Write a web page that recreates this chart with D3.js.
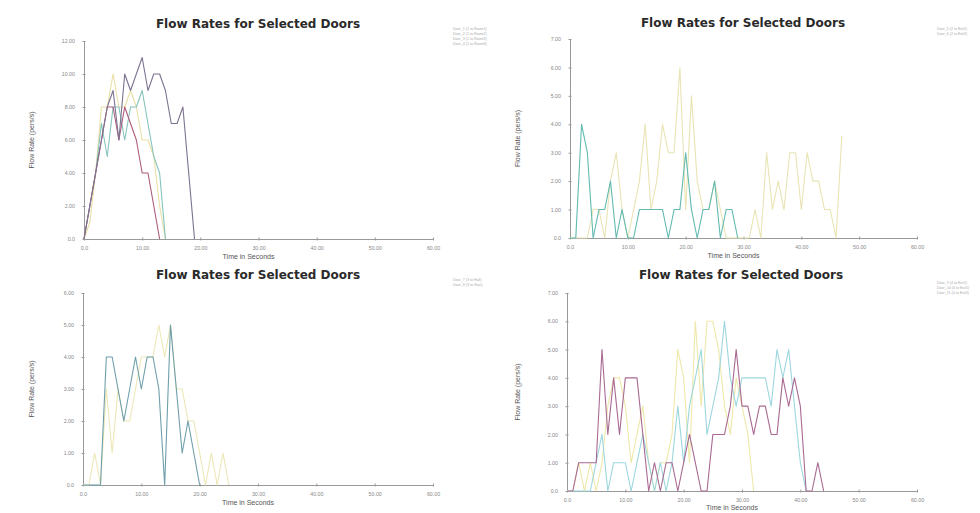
<!DOCTYPE html>
<html>
<head>
<meta charset="utf-8">
<script src="https://cdn.jsdelivr.net/npm/d3@7"></script>
<style>
  body { margin: 0; background: #fff; }
  svg { display: block; font-family: "Liberation Sans", Arial, sans-serif; }
</style>
</head>
<body>
<div id="chart"></div>
<script>
// flow values (pers/s), one per second starting at t = 0
const p1Purple = [0, 2, 4, 6, 8, 9, 6, 10, 9, 10, 11, 9, 10, 10, 9, 7, 7, 8, 4, 0];
const p1Red    = [0, 2, 4, 6, 8, 8, 6, 8, 7, 6, 4, 4, 2, 0];
const p1Yellow = [0, 1, 4, 8, 8, 10, 8, 8, 9, 8, 6, 6, 5, 2, 0];
const p1Teal   = [0, 2, 4, 7, 5, 8, 8, 6, 8, 8, 9, 7, 5, 4, 0];

const p2Yellow = [0, 0, 0, 0, 1, 1, 0, 2, 3, 1, 0, 1, 2, 4, 1, 2, 4, 3, 3, 6, 1, 5, 2, 1,
                  1, 2, 1, 0, 0, 0, 0, 0, 1, 0, 3, 1, 2, 1, 3, 3, 1, 3, 2, 2, 1, 1, 0, 3.6];
const p2Teal   = [0, 0, 4, 3, 0, 1, 1, 2, 0, 1, 0, 0, 1, 1, 1, 1, 1, 0, 1, 1, 3, 1, 0, 1,
                  1, 2, 0, 1, 1, 0];

const p3Teal   = [0, 0, 0, 0, 4, 4, 3, 2, 3, 4, 3, 4, 4, 3, 0, 5, 3, 1, 2, 1, 0];
const p3Yellow = [0, 0, 1, 0, 3, 1, 3, 2, 2, 3, 4, 4, 4, 5, 4, 5, 3, 3, 2, 2, 1, 0, 1, 0, 1, 0];

const p4Purple = [0, 0, 1, 1, 1, 1, 5, 2, 4, 2, 4, 4, 4, 2, 0, 1, 0, 1, 1, 0, 1, 2, 1, 0,
                  0, 2, 2, 2, 3, 5, 3, 3, 2, 3, 3, 2, 2, 4, 3, 4, 3, 0, 0, 1, 0];
const p4Cyan   = [0, 0, 0, 0, 0, 1, 2, 0, 1, 1, 1, 0, 1, 2, 1, 0, 1, 0, 1, 3, 1, 3, 4, 5,
                  2, 3, 4, 6, 4, 3, 4, 4, 4, 4, 4, 3, 5, 4, 5, 3, 1, 0];
const p4Yellow = [0, 0, 1, 0, 1, 0, 1, 3, 4, 4, 3, 1, 2, 3, 1, 0, 1, 1, 2, 5, 4, 1, 6, 3,
                  6, 6, 5, 3, 2, 4, 3, 2, 0];

const xTicks = [0, 10, 20, 30, 40, 50, 60];
const titleText = 'Flow Rates for Selected Doors';

const p1Legend = ['Door_1 (1 to Room1)', 'Door_2 (1 to Room2)', 'Door_3 (1 to Room3)', 'Door_4 (1 to Room4)'];
const p2Legend = ['Door_5 (2 to Exit1)', 'Door_6 (2 to Exit2)'];
const p3Legend = ['Door_7 (3 to Hall)', 'Door_8 (3 to Stair)'];
const p4Legend = ['Door_9 (4 to Exit1)', 'Door_10 (4 to Exit2)', 'Door_11 (4 to Exit3)'];

const panels = [
  { x0: 84, x1: 433, yTop: 41, yBot: 239, yMax: 12, yStep: 2, titleX: 258, titleY: 28,
    yLabX: 34, xLabY: 259, legX: 453, legY: 30, legend: p1Legend,
    series: [[p1Yellow, '#e9e0a6'], [p1Teal, '#86c4bb'], [p1Red, '#ad5c7c'], [p1Purple, '#7d7290']] },
  { x0: 570, x1: 917, yTop: 39, yBot: 238, yMax: 7, yStep: 1, titleX: 743, titleY: 27,
    yLabX: 520, xLabY: 258, legX: 937, legY: 30, legend: p2Legend,
    series: [[p2Yellow, '#e8e4b4'], [p2Teal, '#62bab0']] },
  { x0: 83, x1: 433, yTop: 293, yBot: 485, yMax: 6, yStep: 1, titleX: 258, titleY: 279,
    yLabX: 34, xLabY: 505, legX: 453, legY: 281, legend: p3Legend,
    series: [[p3Yellow, '#ece7b6'], [p3Teal, '#6f9fab']] },
  { x0: 567, x1: 917, yTop: 293, yBot: 491, yMax: 7, yStep: 1, titleX: 741, titleY: 279,
    yLabX: 520, xLabY: 510, legX: 937, legY: 284, legend: p4Legend,
    series: [[p4Yellow, '#efe8aa'], [p4Cyan, '#9dd7de'], [p4Purple, '#a86a92']] }
];

const svg = d3.select('#chart')
  .append('svg')
  .attr('width', 980)
  .attr('height', 513);

const fmt = d => d === 0 ? '0.0' : d.toFixed(2);

panels.forEach(p => {
  const x = d3.scaleLinear().domain([0, 60]).range([p.x0, p.x1]);
  const y = d3.scaleLinear().domain([0, p.yMax]).range([p.yBot, p.yTop]);
  const g = svg.append('g');

  // title
  g.append('text')
    .attr('x', p.titleX)
    .attr('y', p.titleY)
    .attr('text-anchor', 'middle')
    .attr('font-family', '"DejaVu Sans", Verdana, sans-serif')
    .attr('font-size', '12px')
    .attr('font-weight', 'bold')
    .attr('fill', '#2a2a2a')
    .text(titleText);

  // axes
  const xAxis = g.append('g')
    .attr('transform', `translate(0,${p.yBot})`)
    .call(d3.axisBottom(x).tickValues(xTicks).tickFormat(fmt).tickSizeInner(3).tickSizeOuter(0).tickPadding(4));
  const yAxis = g.append('g')
    .attr('transform', `translate(${p.x0},0)`)
    .call(d3.axisLeft(y).tickValues(d3.range(0, p.yMax + 0.001, p.yStep)).tickFormat(fmt)
      .tickSizeInner(3).tickSizeOuter(0).tickPadding(6));

  [xAxis, yAxis].forEach(a => {
    a.select('.domain').attr('stroke', '#999');
    a.selectAll('.tick line').attr('stroke', '#999');
    a.selectAll('.tick text').attr('fill', '#888').attr('font-size', '5.3px');
  });
  xAxis.selectAll('.tick line').attr('y1', -1.5).attr('y2', 1.5);
  yAxis.selectAll('.tick line').attr('x1', -1.5).attr('x2', 1.5);

  // lines
  const line = d3.line()
    .x((d, i) => x(i))
    .y(d => y(d));

  p.series.forEach(([vals, col]) => {
    g.append('path')
      .datum(vals)
      .attr('fill', 'none')
      .attr('stroke', col)
      .attr('stroke-width', 1.1)
      .attr('stroke-linejoin', 'round')
      .attr('d', line);
  });

  // axis labels
  g.append('text')
    .attr('x', (p.x0 + p.x1) / 2 - 10)
    .attr('y', p.xLabY)
    .attr('text-anchor', 'middle')
    .attr('font-size', '7px')
    .attr('fill', '#555')
    .text('Time in Seconds');

  g.append('text')
    .attr('transform', `translate(${p.yLabX},${(p.yTop + p.yBot) / 2}) rotate(-90)`)
    .attr('text-anchor', 'middle')
    .attr('font-size', '7px')
    .attr('fill', '#555')
    .text('Flow Rate (pers/s)');

  // legend
  g.selectAll('.leg')
    .data(p.legend)
    .enter()
    .append('text')
    .attr('x', p.legX)
    .attr('y', (d, i) => p.legY + i * 5)
    .attr('font-size', '3.6px')
    .attr('fill', '#aaa')
    .text(d => d);
});
</script>
</body>
</html>
